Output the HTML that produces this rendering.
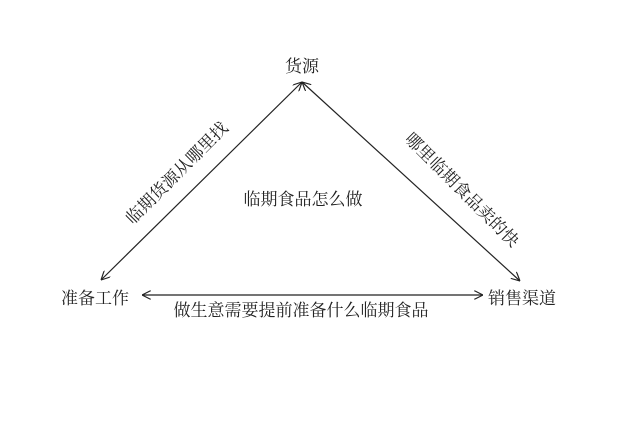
<!DOCTYPE html>
<html><head><meta charset="utf-8"><style>
body{margin:0;background:#fff;}
svg{display:block;}
text{font-family:"Liberation Serif","Noto Serif CJK SC",serif;font-size:17px;fill:#222;}
</style></head><body>
<svg width="640" height="429" viewBox="0 0 640 429">
<defs>
<marker id="a" viewBox="0 0 10 10" refX="10" refY="5" markerWidth="9" markerHeight="9" markerUnits="userSpaceOnUse" orient="auto-start-reverse">
<path d="M0,0 L10,5 L0,10" fill="none" stroke="#222" stroke-width="1.3"/>
</marker>
</defs>
<rect width="640" height="429" fill="#fff"/>
<g stroke="#222" stroke-width="1.2" fill="none">
<line x1="101" y1="280" x2="302" y2="82" marker-start="url(#a)" marker-end="url(#a)"/>
<line x1="302" y1="82" x2="520" y2="281" marker-start="url(#a)" marker-end="url(#a)"/>
<line x1="142" y1="295" x2="483" y2="295" marker-start="url(#a)" marker-end="url(#a)"/>
</g>
<text x="302" y="72" text-anchor="middle">货源</text>
<text x="95" y="304" text-anchor="middle">准备工作</text>
<text x="522" y="304" text-anchor="middle">销售渠道</text>
<text x="303" y="205" text-anchor="middle">临期食品怎么做</text>
<text x="301" y="316" text-anchor="middle">做生意需要提前准备什么临期食品</text>
<text x="0" y="0" text-anchor="middle" transform="translate(181,177) rotate(-45)">临期货源从哪里找</text>
<text x="0" y="0" text-anchor="middle" transform="translate(458,194) rotate(45)">哪里临期食品卖的快</text>
</svg>
</body></html>
